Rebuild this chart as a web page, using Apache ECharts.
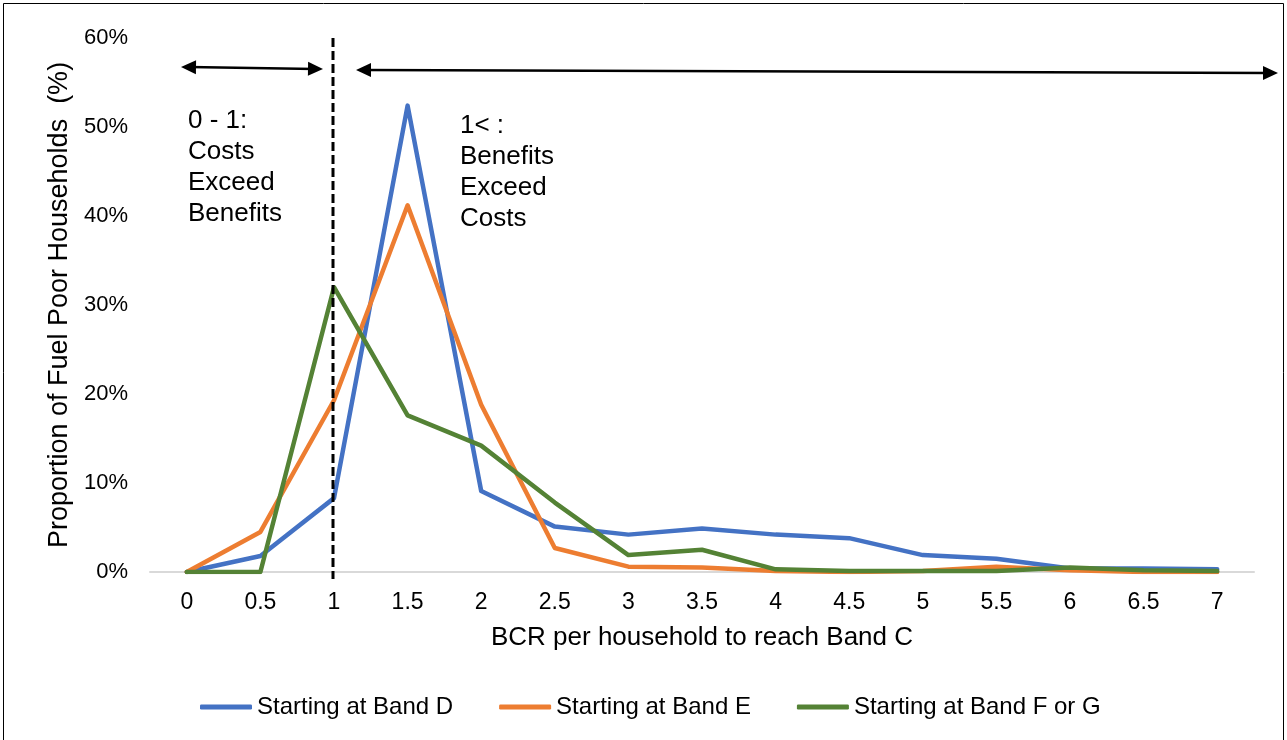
<!DOCTYPE html>
<html>
<head>
<meta charset="utf-8">
<script src="https://cdn.jsdelivr.net/npm/echarts@6/dist/echarts.min.js"></script>
<style>
html,body{margin:0;padding:0;background:#fff;}
#chart{width:1287px;height:740px;}
</style>
</head>
<body>
<div id="chart"></div>
<script>
const categories = ['0','0.5','1','1.5','2','2.5','3','3.5','4','4.5','5','5.5','6','6.5','7'];
const bandD = [0, 1.8, 8.3, 52.4, 9.1, 5.1, 4.2, 4.9, 4.2, 3.8, 1.9, 1.5, 0.4, 0.4, 0.3];
const bandE = [0, 4.5, 19.3, 41.2, 18.8, 2.7, 0.6, 0.5, 0.1, 0, 0.1, 0.6, 0.2, 0, 0];
const bandFG = [0, 0, 32.0, 17.6, 14.2, 7.8, 1.9, 2.5, 0.3, 0.1, 0.1, 0.1, 0.5, 0.2, 0.1];
const seriesNames = ['Starting at Band D', 'Starting at Band E', 'Starting at Band F or G'];
const seriesColors = ['#4472C4', '#ED7D31', '#548235'];
const yTicks = [0, 10, 20, 30, 40, 50, 60];
const leftNote = '0 - 1:\nCosts\nExceed\nBenefits';
const rightNote = '1< :\nBenefits\nExceed\nCosts';

const FONT = '"Liberation Sans", Arial, sans-serif';
const chart = echarts.init(document.getElementById('chart'), null, {renderer: 'canvas'});

function mkSeries(name, data, color) {
  return {
    name: name, type: 'line', data: data, symbol: 'none',
    lineStyle: {color: color, width: 4.5, cap: 'round', join: 'round'},
    itemStyle: {color: color}, z: 3
  };
}

const option = {
  animation: false,
  backgroundColor: '#fff',
  textStyle: {fontFamily: FONT},
  grid: {left: 150, right: 33, top: 38, bottom: 168, containLabel: false},
  legend: {
    bottom: 16, left: 195,
    itemWidth: 52, itemHeight: 5, itemGap: 46,
    icon: 'roundRect',
    textStyle: {fontSize: 24, color: '#000', fontFamily: FONT},
    data: seriesNames
  },
  xAxis: {
    type: 'category', data: categories, boundaryGap: true,
    name: 'BCR per household to reach Band C', nameLocation: 'middle', nameGap: 53,
    nameTextStyle: {fontSize: 26, color: '#000', fontFamily: FONT},
    axisLine: {lineStyle: {color: '#d9d9d9', width: 2}},
    axisTick: {show: false},
    axisLabel: {fontSize: 23, color: '#000', margin: 19, fontFamily: FONT}
  },
  yAxis: {
    type: 'value', min: yTicks[0], max: yTicks[yTicks.length - 1], interval: 10,
    name: 'Proportion of Fuel Poor Households  (%)', nameLocation: 'middle', nameGap: 75,
    nameTextStyle: {fontSize: 27, color: '#000', fontFamily: FONT},
    axisLine: {show: false}, axisTick: {show: false}, splitLine: {show: false},
    axisLabel: {formatter: '{value}%', fontSize: 22, color: '#000', margin: 22, fontFamily: FONT}
  },
  series: [
    mkSeries(seriesNames[0], bandD, seriesColors[0]),
    mkSeries(seriesNames[1], bandE, seriesColors[1]),
    mkSeries(seriesNames[2], bandFG, seriesColors[2])
  ]
};
chart.setOption(option);

function arrow(x1, y1, x2, y2) {
  const els = [];
  const ang = Math.atan2(y2 - y1, x2 - x1);
  const L = 15, W = 7;
  els.push({type: 'line', shape: {x1: x1 + Math.cos(ang) * 8, y1: y1 + Math.sin(ang) * 8, x2: x2 - Math.cos(ang) * 8, y2: y2 - Math.sin(ang) * 8}, style: {stroke: '#000', lineWidth: 2.5}, z: 10});
  function head(px, py, a) {
    return {type: 'polygon', shape: {points: [
      [px, py],
      [px - Math.cos(a) * L - Math.sin(a) * W, py - Math.sin(a) * L + Math.cos(a) * W],
      [px - Math.cos(a) * L + Math.sin(a) * W, py - Math.sin(a) * L - Math.cos(a) * W]
    ]}, style: {fill: '#000'}, z: 10};
  }
  els.push(head(x2, y2, ang));
  els.push(head(x1, y1, ang + Math.PI));
  return els;
}

const pBottom = chart.convertToPixel({xAxisIndex: 0, yAxisIndex: 0}, ['1', yTicks[0]]);
const pTop = chart.convertToPixel({xAxisIndex: 0, yAxisIndex: 0}, ['1', yTicks[yTicks.length - 1]]);
const graphics = [
  {type: 'rect', shape: {x: 3.5, y: 3.5, width: 1280, height: 745}, style: {fill: 'none', stroke: '#000', lineWidth: 1}, z: 0, silent: true},
  {type: 'line', shape: {x1: pTop[0] - 1, y1: pTop[1], x2: pBottom[0] - 1, y2: pBottom[1] + 7}, style: {stroke: '#000', lineWidth: 3, lineDash: [9, 4]}, z: 8, silent: true},
  {type: 'text', left: 188, top: 105, style: {text: leftNote, font: '26px ' + FONT, fill: '#000', lineHeight: 31}, z: 10},
  {type: 'text', left: 460, top: 110, style: {text: rightNote, font: '26px ' + FONT, fill: '#000', lineHeight: 31}, z: 10}
].concat(arrow(181, 67, pTop[0] - 11, 69)).concat(arrow(pTop[0] + 22, 70, 1278, 73));
chart.setOption({graphic: graphics});
</script>
</body>
</html>
